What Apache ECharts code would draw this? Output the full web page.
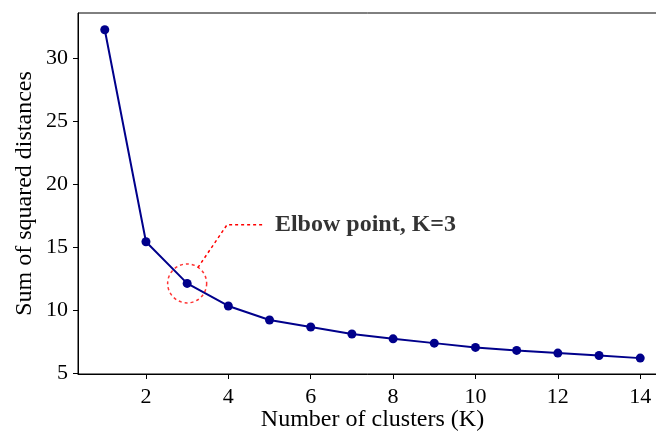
<!DOCTYPE html>
<html>
<head>
<meta charset="utf-8">
<script src="https://cdn.jsdelivr.net/npm/echarts@6/dist/echarts.min.js"></script>
<style>
  html, body { margin: 0; padding: 0; background: #fff; }
  #chart { width: 656px; height: 432px; }
</style>
</head>
<body>
<div id="chart"></div>
<script>
// elbow curve values
const clusters = [1, 2, 3, 4, 5, 6, 7, 8, 9, 10, 11, 12, 13, 14];
const sse = [32.27, 15.45, 12.14, 10.35, 9.24, 8.68, 8.12, 7.74, 7.40, 7.06, 6.82, 6.61, 6.42, 6.21];
const xTicks = [2, 4, 6, 8, 10, 12, 14];
const yTicks = [5, 10, 15, 20, 25, 30];

// annotation (data coordinates)
const elbowK = 3;
const connector = [[3.26, 13.39], [3.97, 16.8], [4.84, 16.8]];
const labelText = "Elbow point, K=3";

const font = "'Liberation Serif', 'Times New Roman', serif";

let chart = echarts.init(document.getElementById("chart"));
let option = {
  animation: false,
  grid: {
    left: 78,
    top: 13,
    right: -11,
    bottom: 58,
    outerBoundsMode: "none",
    containLabel: false,
    show: true,
    borderColor: "#000",
    borderWidth: 1,
  },
  xAxis: {
    type: "value",
    min: 0.35,
    max: 14.65,
    name: "Number of clusters (K)",
    nameLocation: "middle",
    nameGap: 34,
    nameMoveOverlap: false,
    nameTextStyle: { fontFamily: font, fontSize: 24, color: "#000" },
    axisLine: { show: true, onZero: false, lineStyle: { color: "#000", width: 1 } },
    axisTick: { show: true, customValues: xTicks, length: 5, lineStyle: { color: "#000" } },
    axisLabel: {
      customValues: xTicks,
      fontFamily: font,
      fontSize: 22,
      color: "#000",
      margin: 12,
    },
    splitLine: { show: false },
  },
  yAxis: {
    type: "value",
    min: 4.95,
    max: 33.6,
    name: "Sum of squared distances",
    nameLocation: "middle",
    nameGap: 41,
    nameMoveOverlap: false,
    nameTextStyle: { fontFamily: font, fontSize: 24, color: "#000" },
    axisLine: { show: true, onZero: false, lineStyle: { color: "#000", width: 1 } },
    axisTick: { show: true, customValues: yTicks, length: 5, lineStyle: { color: "#000" } },
    axisLabel: {
      customValues: yTicks,
      fontFamily: font,
      fontSize: 22,
      color: "#000",
      margin: 10,
    },
    splitLine: { show: false },
  },
  series: [
    {
      type: "line",
      data: clusters.map((k, i) => [k, sse[i]]),
      symbol: "circle",
      symbolSize: 9,
      lineStyle: { color: "#00008b", width: 2 },
      itemStyle: { color: "#00008b" },
      z: 3,
    },
    {
      // dashed circle round the elbow
      type: "scatter",
      data: [[elbowK, sse[clusters.indexOf(elbowK)]]],
      symbol: "circle",
      symbolSize: 39,
      itemStyle: {
        color: "rgba(0,0,0,0)",
        borderColor: "#ff0000",
        borderWidth: 1.5,
        borderType: [3, 3],
      },
      z: 4,
    },
    {
      type: "line",
      data: connector,
      symbol: "none",
      lineStyle: { color: "#ff0000", width: 1.5, type: [3, 3] },
      z: 4,
    },
    {
      type: "scatter",
      data: [connector[connector.length - 1]],
      symbolSize: 0,
      label: {
        show: true,
        position: "right",
        distance: 12,
        formatter: labelText,
        fontFamily: font,
        fontWeight: "bold",
        fontSize: 24,
        color: "#000",
      },
      z: 5,
    },
  ],
};
chart.setOption(option);
</script>
</body>
</html>
